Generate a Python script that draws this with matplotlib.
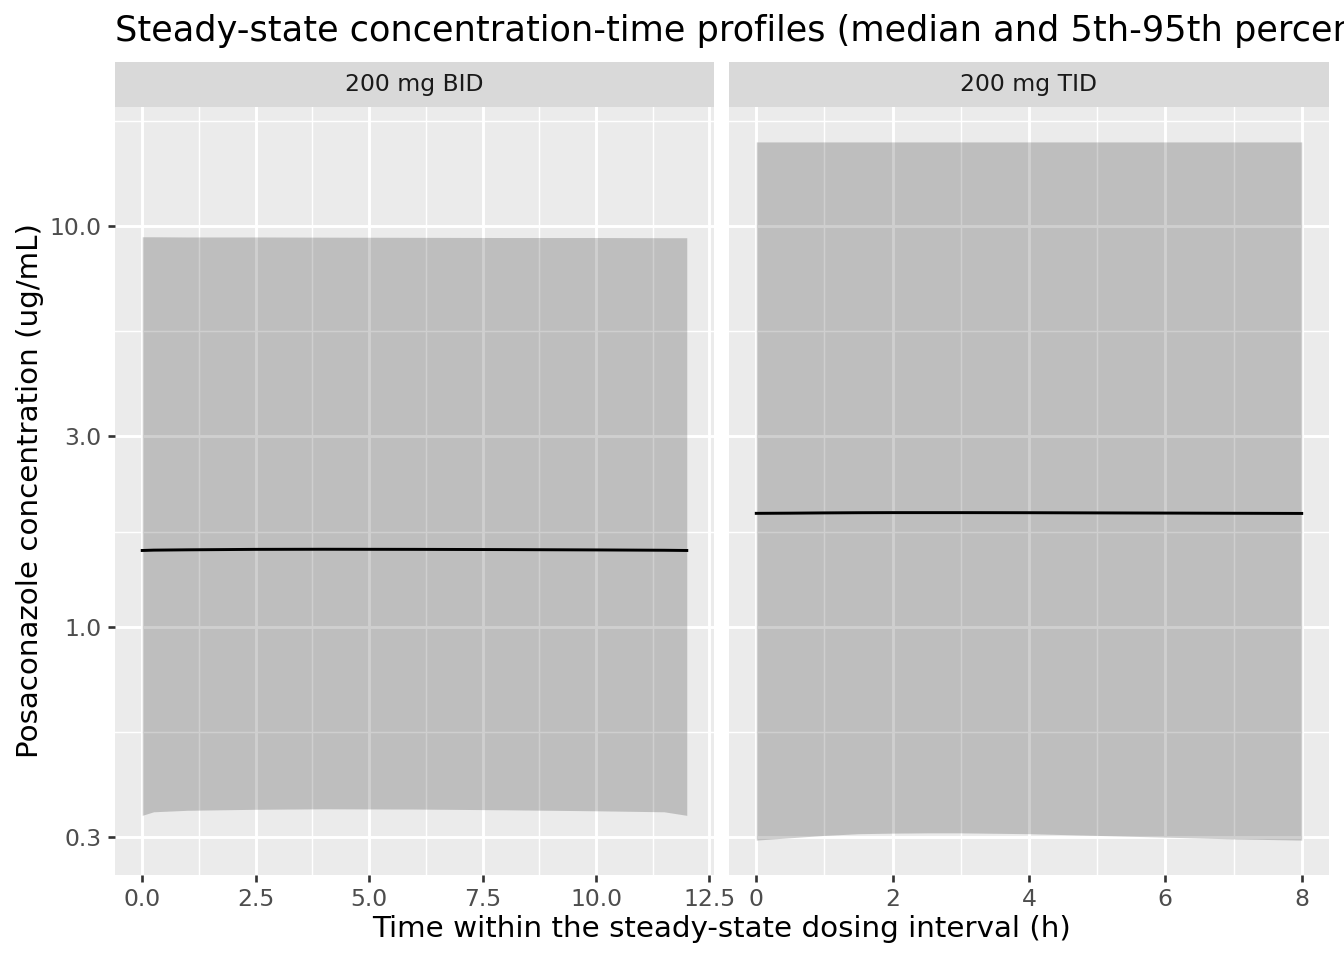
import numpy as np
import matplotlib
matplotlib.use("Agg")
import matplotlib.pyplot as plt
from matplotlib.ticker import FixedLocator, NullFormatter

# ---------------------------------------------------------
# Data (median + 5th/95th percentiles)
# ---------------------------------------------------------
bid_time = [0, 0.25, 1, 2.5, 4, 6, 8, 10, 11.5, 12]
bid_p05 = [0.340, 0.347, 0.350, 0.352, 0.353, 0.3525, 0.351, 0.349, 0.347, 0.340]
bid_p95 = [9.40, 9.40, 9.39, 9.39, 9.38, 9.37, 9.36, 9.36, 9.35, 9.35]
bid_med = [1.554, 1.557, 1.560, 1.564, 1.565, 1.564, 1.562, 1.559, 1.556, 1.554]

tid_time = [0, 0.5, 1, 1.5, 2, 2.5, 3, 4, 5, 6, 7, 8]
tid_p05 = [0.295, 0.299, 0.303, 0.306, 0.307, 0.3075, 0.3075, 0.306, 0.303, 0.300, 0.297, 0.295]
tid_p95 = [16.2, 16.2, 16.2, 16.2, 16.2, 16.2, 16.2, 16.2, 16.2, 16.2, 16.2, 16.2]
tid_med = [1.923, 1.925, 1.928, 1.930, 1.931, 1.931, 1.931, 1.930, 1.928, 1.926, 1.924, 1.922]

panels = ["200 mg BID", "200 mg TID"]
y_breaks = [0.3, 1.0, 3.0, 10.0]
x_breaks = [[0, 2.5, 5, 7.5, 10, 12.5], [0, 2, 4, 6, 8]]
x_minor = [[1.25, 3.75, 6.25, 8.75, 11.25], [1, 3, 5, 7]]
x_labels = [["0.0", "2.5", "5.0", "7.5", "10.0", "12.5"], ["0", "2", "4", "6", "8"]]

series = [
    (bid_time, bid_p05, bid_p95, bid_med),
    (tid_time, tid_p05, tid_p95, tid_med),
]

# shared log y range with ggplot-like 5% expansion
lo = np.log10(min(min(bid_p05), min(tid_p05)))
hi = np.log10(max(max(bid_p95), max(tid_p95)))
pad = 0.05 * (hi - lo)
ylim = (10 ** (lo - pad), 10 ** (hi + pad))
y_minor = [10 ** ((np.log10(a) + np.log10(b)) / 2) for a, b in zip(y_breaks[:-1], y_breaks[1:])]
y_minor.append(10 ** (np.log10(y_breaks[-1]) + (np.log10(y_breaks[-1]) - np.log10(y_breaks[-2])) / 2))

W, H = 1344, 960
fig = plt.figure(figsize=(7, 5), dpi=192)

panel_x = [(115, 714), (729, 1329)]
p_top, p_bot = 107, 875
strip_top = 62

for i, (t, p05, p95, med) in enumerate(series):
    x0, x1 = panel_x[i]
    ax = fig.add_axes([x0 / W, 1 - p_bot / H, (x1 - x0) / W, (p_bot - p_top) / H])
    ax.set_facecolor("#EBEBEB")
    for s in ax.spines.values():
        s.set_visible(False)

    ax.set_yscale("log")
    ax.set_ylim(*ylim)
    xr = max(t) - min(t)
    ax.set_xlim(min(t) - 0.05 * xr, max(t) + 0.05 * xr)

    # grid
    for v in y_minor:
        ax.axhline(v, color="white", lw=0.55, zorder=0)
    for v in y_breaks:
        ax.axhline(v, color="white", lw=1.1, zorder=0)
    for v in x_minor[i]:
        ax.axvline(v, color="white", lw=0.55, zorder=0)
    for v in x_breaks[i]:
        ax.axvline(v, color="white", lw=1.1, zorder=0)

    ax.fill_between(t, p05, p95, color="black", alpha=0.19, lw=0, zorder=1)
    ax.plot(t, med, color="black", lw=1.1, zorder=2)

    ax.xaxis.set_major_locator(FixedLocator(x_breaks[i]))
    ax.set_xticklabels(x_labels[i])
    ax.yaxis.set_major_locator(FixedLocator(y_breaks))
    ax.yaxis.set_minor_locator(FixedLocator([]))
    ax.yaxis.set_minor_formatter(NullFormatter())
    ax.tick_params(axis="both", which="major", length=2.75, width=1.0,
                   color="#333333", labelsize=8.8, labelcolor="#4D4D4D", pad=2.2)
    if i == 0:
        ax.set_yticklabels([f"{v:.1f}" for v in y_breaks])
    else:
        ax.tick_params(axis="y", left=False, labelleft=False)

    # strip
    sax = fig.add_axes([x0 / W, 1 - p_top / H, (x1 - x0) / W, (p_top - strip_top) / H])
    sax.set_facecolor("#D9D9D9")
    sax.set_xticks([])
    sax.set_yticks([])
    for s in sax.spines.values():
        s.set_visible(False)
    sax.text(0.5, 0.5, panels[i], ha="center", va="center", fontsize=8.8,
             color="#1A1A1A", transform=sax.transAxes)

fig.text(115 / W, 1 - 41 / H,
         "Steady-state concentration-time profiles (median and 5th-95th percentiles)",
         ha="left", va="baseline", fontsize=13.2, color="black")
fig.text(722 / W, 1 - 929 / H, "Time within the steady-state dosing interval (h)",
         ha="center", va="center", fontsize=11, color="black")
fig.text(30 / W, 1 - 491 / H, "Posaconazole concentration (ug/mL)",
         ha="center", va="center", rotation=90, fontsize=11, color="black")

fig.savefig("out.png", dpi=192, facecolor="white")
